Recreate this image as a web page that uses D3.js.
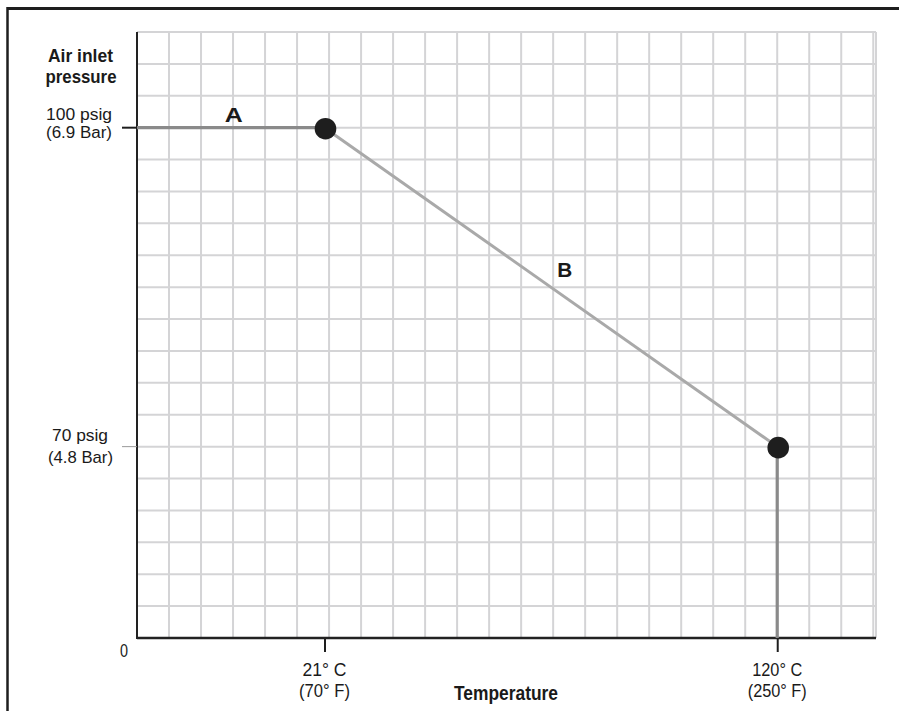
<!DOCTYPE html>
<html>
<head>
<meta charset="utf-8">
<script src="https://cdn.jsdelivr.net/npm/d3@7"></script>
<style>
  html, body { margin: 0; padding: 0; background: #fff; }
  svg { display: block; }
  text { font-family: "Liberation Sans Narrow", "Liberation Sans", Arial, sans-serif; fill: #1a1a1a; }
</style>
</head>
<body>
<svg id="chart" width="899" height="711"></svg>
<script>
// ---- data ----
const tempC = [21, 120];
const tempF = [70, 250];
const pressurePsig = [100, 70];
const pressureBar = [6.9, 4.8];
const zeroLabel = "0";
// operating envelope: segment A (flat), segment B (derating), cutoff
const segA = [{t: -20, p: 100}, {t: 21, p: 100}];
const segB = [{t: 21, p: 100}, {t: 120, p: 70}];
const cutoff = [{t: 120, p: 70}, {t: 120, p: 0}];
const knees = [{t: 21, p: 100}, {t: 120, p: 70}];
const segNames = ["A", "B"];
const gridStepC = 7;       // one grid column = 7 °C
const gridRows = 19;       // grid rows in the schematic pressure axis
const rowOf70 = 6, rowOf100 = 16;

// ---- layout ----
const svg = d3.select("#chart");
const L = 137, R = 876, T = 32, B = 638;

const x = d3.scaleLinear().domain([-20, 141.6]).range([L, R]);
const row = d3.scaleLinear().domain([0, gridRows]).range([B, T]);
// schematic (piecewise) pressure scale
const y = d3.scaleLinear()
  .domain([0, 70, 100, 109])
  .range([row(0), row(rowOf70), row(rowOf100), row(gridRows)]);

// outer frame (top + left)
svg.append("line").attr("x1", 7).attr("x2", 899).attr("y1", 8.5).attr("y2", 8.5)
  .attr("stroke", "#1e1e1e").attr("stroke-width", 3);
svg.append("line").attr("x1", 7.5).attr("x2", 7.5).attr("y1", 7).attr("y2", 711)
  .attr("stroke", "#1e1e1e").attr("stroke-width", 2.5);

// grid
const g = svg.append("g");
const vt = d3.range(-20 + gridStepC, 141.6, gridStepC).concat([141.6]);
g.selectAll("line.v").data(vt).join("line").attr("class", "v")
  .attr("x1", d => x(d)).attr("x2", d => x(d))
  .attr("y1", T).attr("y2", B)
  .attr("stroke", "#d4d4d6").attr("stroke-width", 2);
g.selectAll("line.h").data(d3.range(1, gridRows + 1)).join("line").attr("class", "h")
  .attr("x1", L).attr("x2", R)
  .attr("y1", d => row(d)).attr("y2", d => row(d))
  .attr("stroke", "#d4d4d6").attr("stroke-width", 2);

// axes
const xAxis = d3.axisBottom(x).tickValues(tempC).tickSize(14).tickFormat("");
const xa = svg.append("g").attr("transform", `translate(0,${B})`).call(xAxis);
xa.select(".domain").remove();
xa.selectAll(".tick line").attr("stroke", "#1e1e1e").attr("stroke-width", 2);
svg.append("line").attr("x1", L).attr("x2", R).attr("y1", B).attr("y2", B)
  .attr("stroke", "#222").attr("stroke-width", 2.6);

svg.append("line").attr("x1", L).attr("x2", L).attr("y1", T).attr("y2", B + 1)
  .attr("stroke", "#222").attr("stroke-width", 2);
// y ticks
svg.append("line").attr("x1", L - 15).attr("x2", L).attr("y1", y(100)).attr("y2", y(100))
  .attr("stroke", "#1e1e1e").attr("stroke-width", 2);
svg.append("line").attr("x1", L - 15).attr("x2", L).attr("y1", y(70)).attr("y2", y(70))
  .attr("stroke", "#9a9a9a").attr("stroke-width", 1);

// envelope lines
const line = d3.line().x(d => x(d.t)).y(d => y(d.p));
svg.append("path").datum(segB).attr("d", line)
  .attr("fill", "none").attr("stroke", "#a9a9a9").attr("stroke-width", 3);
svg.append("path").datum(segA).attr("d", line)
  .attr("fill", "none").attr("stroke", "#8a8a8a").attr("stroke-width", 3.2);
svg.append("path").datum(cutoff).attr("d", line)
  .attr("fill", "none").attr("stroke", "#8a8a8a").attr("stroke-width", 3.2);

svg.selectAll("circle.k").data(knees).join("circle").attr("class", "k")
  .attr("cx", d => x(d.t) + 1).attr("cy", d => y(d.p) + 1)
  .attr("r", 10.8).attr("fill", "#1e1e1e");

// text helper
function txt(s, cx, by, size, weight, width) {
  const t = svg.append("text").attr("x", cx).attr("y", by)
    .attr("text-anchor", "middle").attr("font-size", size)
    .attr("font-weight", weight).text(s);
  if (width) t.attr("textLength", width).attr("lengthAdjust", "spacingAndGlyphs");
  return t;
}

// y axis title
txt("Air inlet", 80.5, 62, 19, "bold", 65);
txt("pressure", 81, 83, 19, "bold", 71);

// y tick labels
txt(pressurePsig[0] + " psig", 79, y(100) - 8, 16, "normal", 66);
txt("(" + pressureBar[0] + " Bar)", 79, y(100) + 10, 16, "normal", 66);
txt(pressurePsig[1] + " psig", 80, y(70) - 6, 17, "normal", 56);
txt("(" + pressureBar[1] + " Bar)", 80.5, y(70) + 16, 17, "normal", 65);
txt(zeroLabel, 124, B + 19, 18, "normal", 8);

// x tick labels
const cW = [44, 50], fW = [51, 59];
tempC.forEach((c, i) => {
  txt(c + "° C", x(c), B + 38, 19, "normal", cW[i]);
  txt("(" + tempF[i] + "° F)", x(c), B + 59, 19, "normal", fW[i]);
});
txt("Temperature", 506, 700, 20, "bold", 104);

// segment labels
const midA = {t: (segA[0].t + segA[1].t) / 2, p: segA[0].p};
const midB = {t: (segB[0].t + segB[1].t) / 2, p: (segB[0].p + segB[1].p) / 2};
txt(segNames[0], x(midA.t) + 3, y(midA.p) - 6, 21, "bold", 18);
txt(segNames[1], x(midB.t) + 14, (row(rowOf100) + row(rowOf70)) / 2 - 10, 21, "bold", 15);
</script>
</body>
</html>
